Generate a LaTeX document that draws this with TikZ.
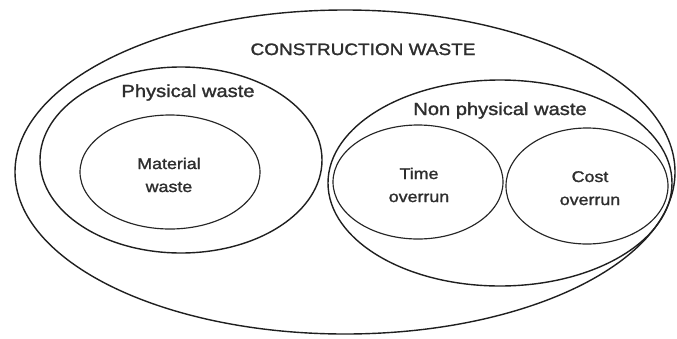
\documentclass[tikz,border=0pt]{standalone}
\usepackage{fontspec}
\setmainfont[FakeStretch=1.15,FakeBold=1.5]{Liberation Sans}
\usetikzlibrary{shapes.geometric}
\begin{document}
\begin{tikzpicture}[x=1pt,y=-1pt,
  ring/.style={draw=black!88,line width=1.4pt,ellipse,inner sep=0pt,minimum width=#1},
  subring/.style={draw=black!85,line width=1.15pt,ellipse,inner sep=0pt},
  biglabel/.style={text=black!82,font=\fontsize{16.5}{20}\selectfont,anchor=base,inner sep=0pt},
  smalllabel/.style={text=black!82,font=\fontsize{15.5}{23}\selectfont,align=center,anchor=base,inner sep=0pt}]
\useasboundingbox (0,0) rectangle (677,338);
\fill[white] (0,0) rectangle (677,338);
% outer
\node[ring=660pt,minimum height=324pt] (cw) at (345,172) {};
% physical
\node[ring=282pt,minimum height=186pt] (pw) at (181,160) {};
\node[subring,minimum width=180pt,minimum height=114pt] (mw) at (170,172) {};
% non physical
\node[ring=344pt,minimum height=206pt] (npw) at (500,183) {};
\node[subring,minimum width=170pt,minimum height=114pt] (to) at (418,182) {};
\node[subring,minimum width=162pt,minimum height=116pt] (co) at (587,186) {};
% labels
\node[biglabel] (cwl) at (363,55) {CONSTRUCTION WASTE};
\node[biglabel,font=\fontsize{17.5}{20}\selectfont] (pwl) at (188,97) {Physical waste};
\node[biglabel,font=\fontsize{17.5}{20}\selectfont] (npwl) at (500,115) {Non physical waste};
\node[smalllabel] (mwl) at (169,192) {Material\\waste};
\node[smalllabel] (tol) at (419,202) {Time\\overrun};
\node[smalllabel] (col) at (590,205) {Cost\\overrun};
\end{tikzpicture}
\end{document}
